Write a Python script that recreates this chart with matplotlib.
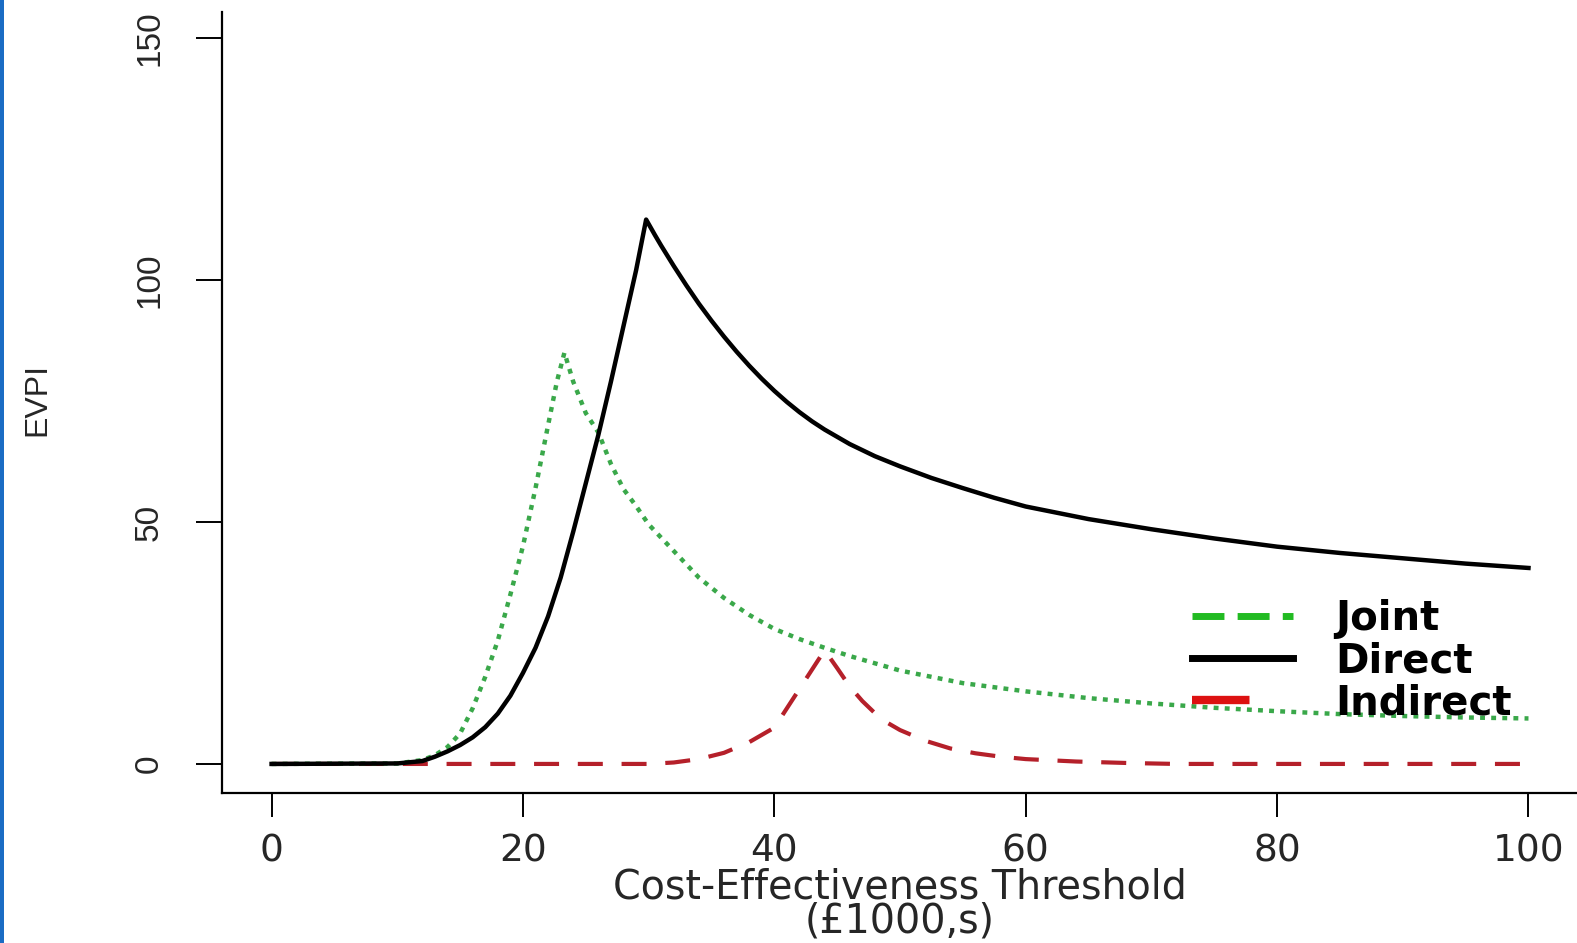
import numpy as np
import matplotlib
matplotlib.use("Agg")
import matplotlib.pyplot as plt
from matplotlib.lines import Line2D

plt.rcParams['font.family'] = ['Liberation Sans', 'DejaVu Sans']

# Direct EVPI
direct_x = [0, 10, 12, 13, 14, 15, 16, 17, 18, 19, 20, 21, 22, 23, 24, 25, 26, 27, 28,
            29, 29.8, 30.5, 31, 32, 33, 34, 35, 36, 37, 38, 39, 40, 41, 42, 43, 44,
            46, 48, 50, 52.5, 55, 57.5, 60, 65, 70, 75, 80, 85, 90, 95, 100]
direct_y = [0, 0.1, 0.6, 1.5, 2.6, 3.9, 5.5, 7.6, 10.4, 14.1, 18.8, 24, 30.5, 38.5, 48,
            58, 68, 79, 90.5, 102, 112.5, 109.3, 107.1, 102.9, 98.9, 95.1, 91.6, 88.3,
            85.2, 82.3, 79.6, 77.1, 74.8, 72.7, 70.8, 69.1, 66.1, 63.6, 61.5, 59.1, 57,
            55, 53.2, 50.6, 48.5, 46.6, 44.9, 43.6, 42.5, 41.4, 40.5]

# Joint EVPI
joint_x = [0, 10, 12, 13, 14, 15, 16, 17, 18, 19, 20, 21, 22, 22.7, 23.3, 24, 25, 26, 27,
           28, 29, 30, 32, 34, 36, 38, 40, 42, 44, 46, 48, 50, 55, 60, 65, 70, 75, 80,
           85, 90, 95, 100]
joint_y = [0, 0.1, 0.8, 1.8, 3.5, 6.3, 11.5, 18, 25.5, 35, 45, 57, 70, 79, 85, 79, 72.5,
           68.5, 62, 56.8, 53.3, 49.5, 44, 38.5, 34.3, 30.8, 27.9, 25.8, 24, 22.3,
           20.8, 19.3, 16.7, 15, 13.6, 12.5, 11.6, 10.9, 10.3, 9.9, 9.6, 9.4]

# Indirect EVPI
indirect_x = [0, 30, 32, 34, 36, 38, 40, 41, 42, 43, 44, 45, 46, 47, 48, 49, 50, 52, 54,
              56, 58, 60, 64, 68, 72, 100]
indirect_y = [0, 0, 0.3, 1, 2.3, 4.5, 7.5, 11.5, 15.5, 19.5, 23.5, 19.8, 16, 13, 10.5,
              8.5, 7, 4.8, 3.2, 2.2, 1.5, 1, 0.5, 0.2, 0, 0]

x_ticks = [0, 20, 40, 60, 80, 100]
y_ticks = [0, 50, 100, 150]
legend_labels = ["Joint", "Direct", "Indirect"]

green = "#3aa84a"
red = "#b5202a"
txt = "#262626"

fig = plt.figure(figsize=(15.77, 9.43), dpi=100)
ax = fig.add_axes([0.1408, 0.1591, 0.8592, 0.8282])

ax.plot(indirect_x, indirect_y, color=red, lw=3.0, linestyle=(0, (6, 4.5)))
ax.plot(joint_x, joint_y, color=green, lw=3.2, linestyle=(0, (1.1, 1.4)))
ax.plot(direct_x, direct_y, color="black", lw=3.2, solid_joinstyle='round')

ax.set_xlim(-3.94, 103.86)
ax.set_ylim(-6.0, 155.4)

for s in ["top", "right"]:
    ax.spines[s].set_visible(False)
for s in ["left", "bottom"]:
    ax.spines[s].set_linewidth(1.6)

ax.set_xticks(x_ticks)
ax.set_yticks(y_ticks)
ax.tick_params(axis='x', length=17, width=1.4, pad=12, labelsize=27, labelcolor=txt)
ax.tick_params(axis='y', length=19, width=1.4, pad=22, labelsize=24, labelcolor=txt)
for lab in ax.get_xticklabels():
    lab.set_family('DejaVu Sans')
for lab in ax.get_yticklabels():
    lab.set_rotation(90)
    lab.set_va('center')

ax.set_xlabel("Cost-Effectiveness Threshold\n(£1000,s)", fontsize=28.5, color=txt,
              family='DejaVu Sans', linespacing=0.8, labelpad=-1)
fig.text(0.0235, 0.576, "EVPI", rotation=90, fontsize=23, color=txt,
         ha='center', va='center')

handles = [Line2D([], [], color="#22bb22", lw=5, linestyle=(0, (4.6, 1.9))),
           Line2D([], [], color="black", lw=5),
           Line2D([], [], color="#dd1111", lw=6, linestyle=(0, (6.9, 20)))]
ax.legend(handles, legend_labels, loc='upper left',
          bbox_to_anchor=(1172 / 1577, 1 - 579 / 943), bbox_transform=fig.transFigure,
          frameon=False, handlelength=2.5, handletextpad=1.05, labelspacing=0.05,
          borderpad=0, prop={'size': 29, 'weight': 'bold', 'family': 'DejaVu Sans'})

# blue frame edge on the left
fig.add_artist(plt.Rectangle((0, 0), 3.5 / 1577, 1, transform=fig.transFigure,
                             color="#1a6cc4", lw=0))

fig.savefig("out.png", dpi=100)
